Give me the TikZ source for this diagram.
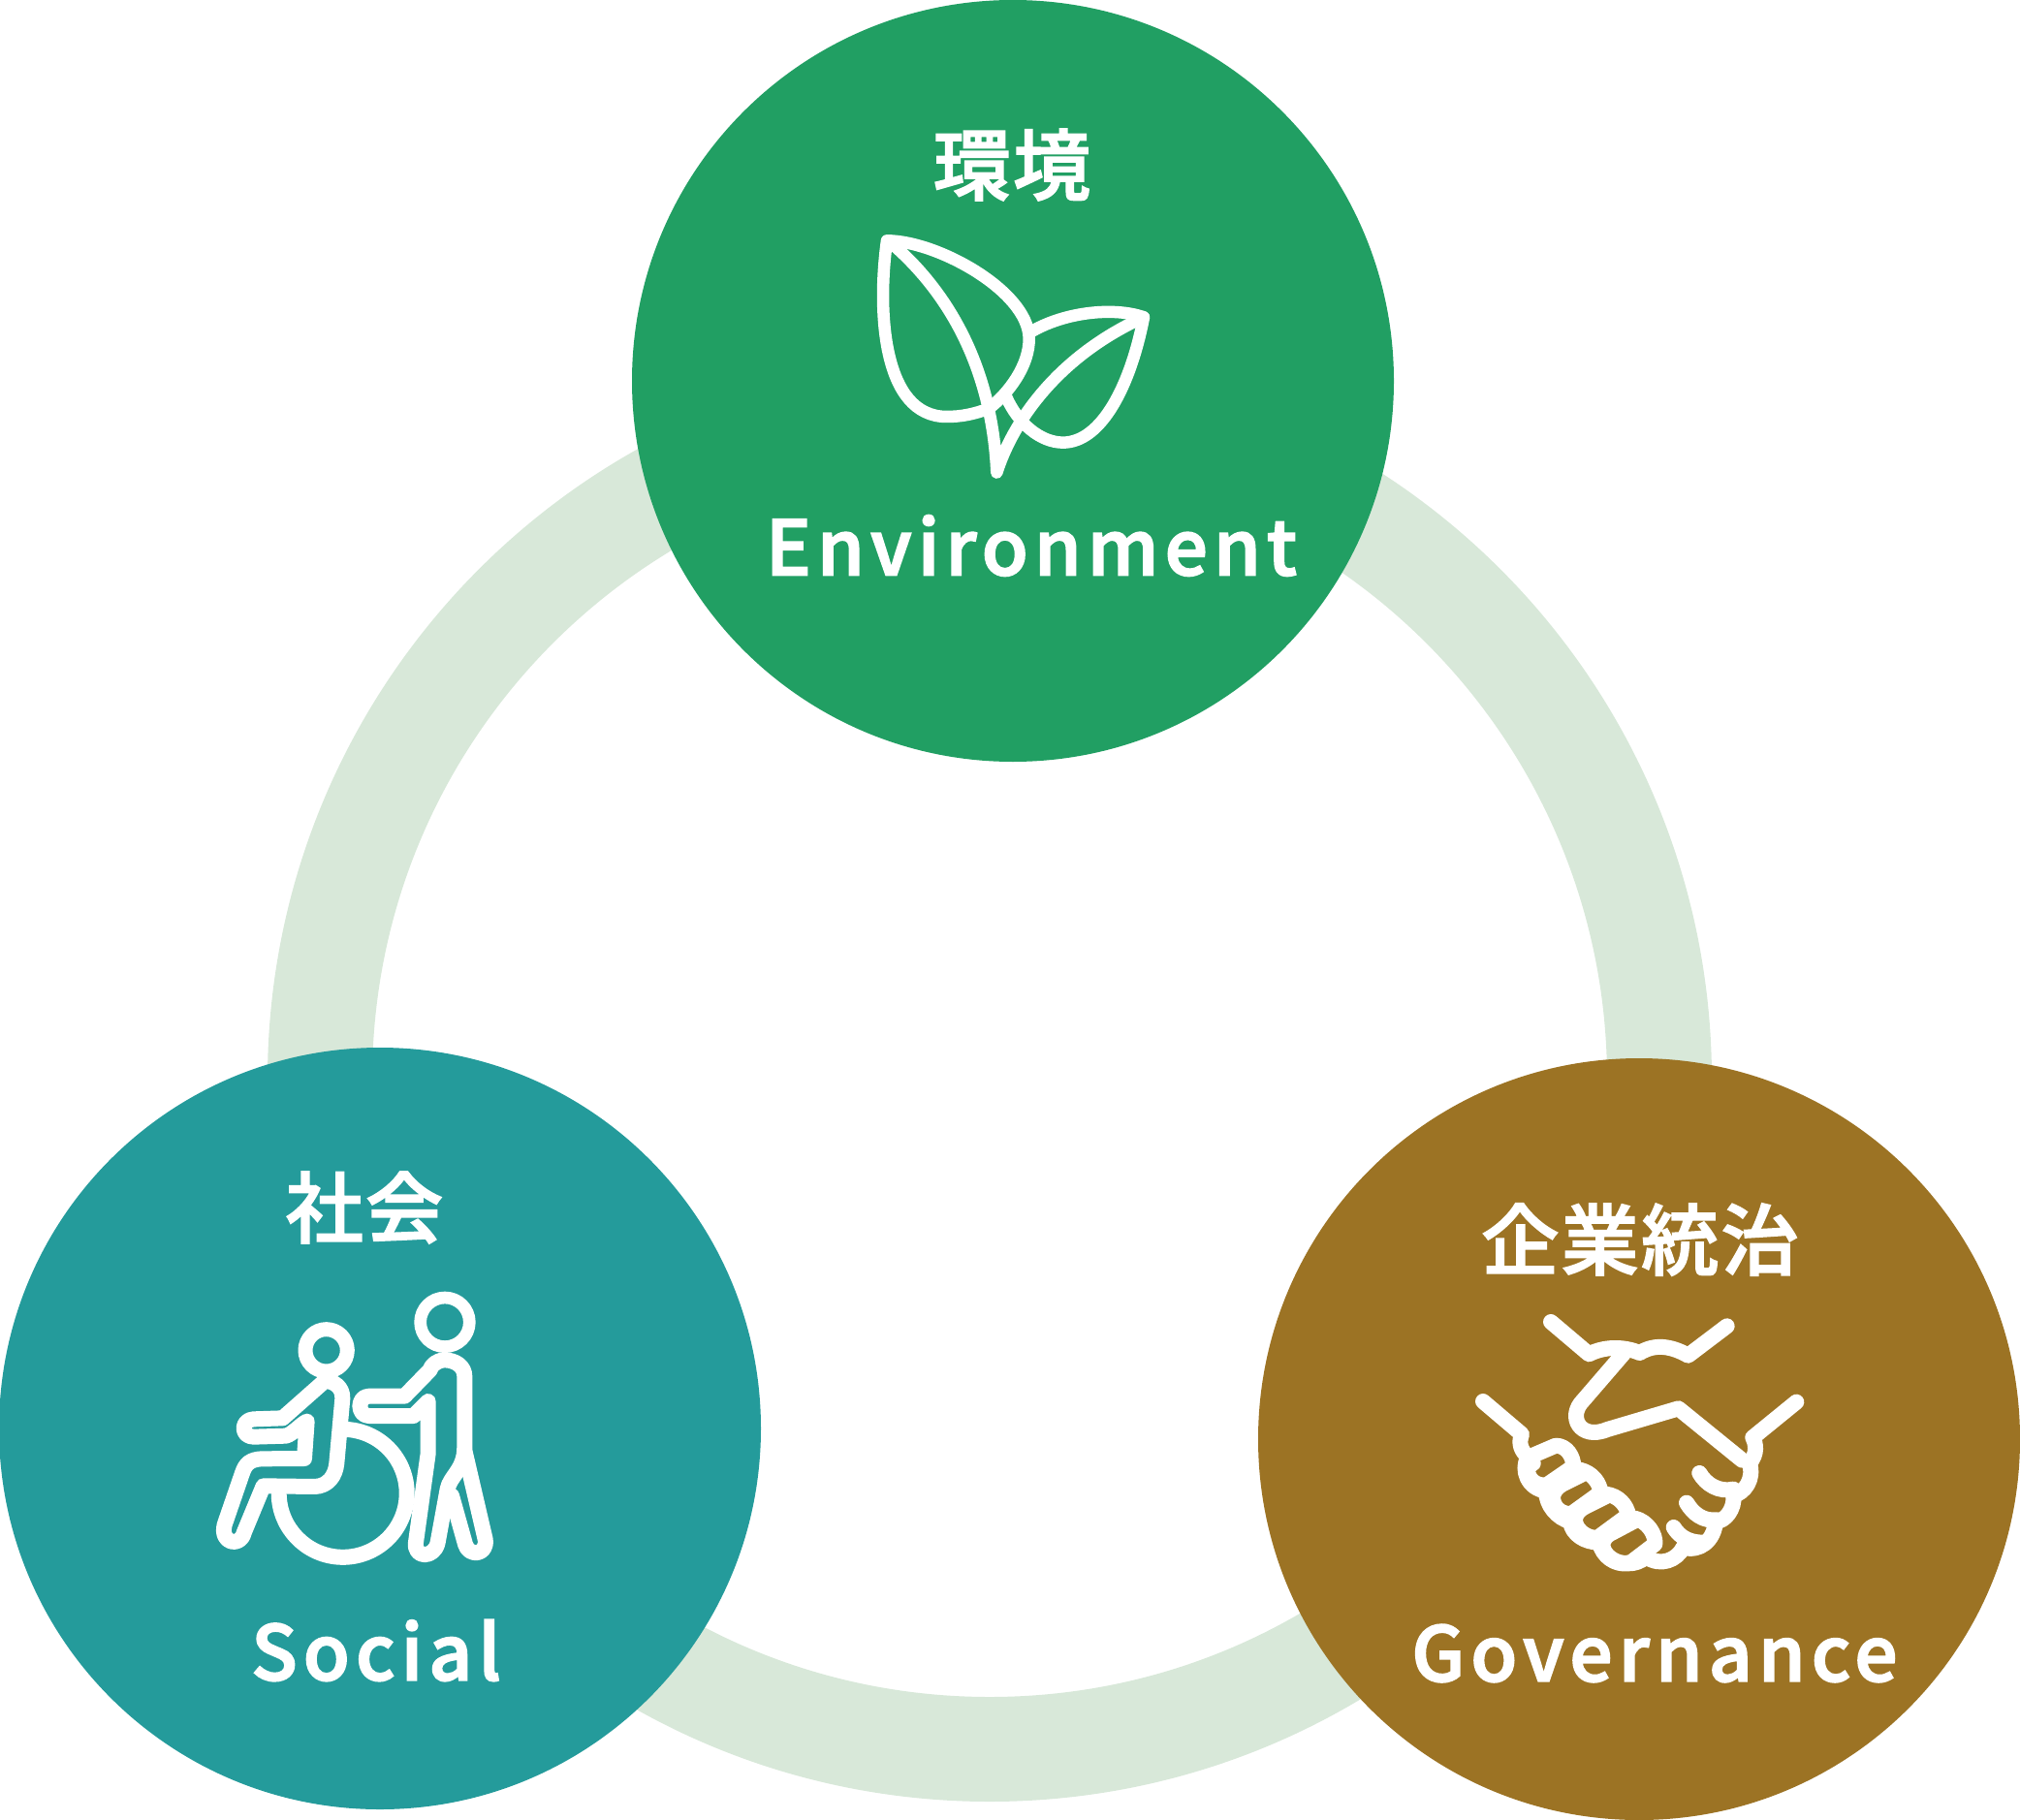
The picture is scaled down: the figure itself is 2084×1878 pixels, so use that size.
\documentclass[tikz,border=0pt]{standalone}
\usepackage{fontspec}
\newfontfamily\jpfont[LetterSpace=3,FakeBold=2]{Noto Sans CJK JP Medium}
\newfontfamily\latinfont[LetterSpace=8,FakeBold=2.5]{Noto Sans CJK JP Medium}
\usetikzlibrary{shapes,positioning}
\definecolor{envgreen}{RGB}{33,159,99}
\definecolor{socialteal}{RGB}{36,155,155}
\definecolor{govbrown}{RGB}{156,115,36}
\definecolor{ringgreen}{RGB}{216,232,217}

\begin{document}
\begin{tikzpicture}[
    x=1pt, y=-1pt,
    bubble/.style={circle, minimum size=786pt, inner sep=0pt},
    jptitle/.style={text=white, font=\jpfont\fontsize{80}{80}\selectfont},
    engname/.style={text=white, font=\latinfont\fontsize{78}{78}\selectfont},
    thinicon/.style={draw=white, line width=12.5pt, line cap=round, line join=round},
    icon/.style={draw=white, line width=16pt, line cap=round, line join=round},
    zoomed/.style={x=0.3333pt, y=-0.3333pt}
]
\useasboundingbox (0,0) rectangle (2084,1878);

% Ring behind the circles
\node[draw=ringgreen, circle, line width=108pt, minimum size=1382pt, inner sep=0pt] (ring) at (1021,1114) {};

% Three circles
\node[bubble, fill=envgreen] (env) at (1045,393) {};
\node[bubble, fill=socialteal] (social) at (392,1474) {};
\node[bubble, fill=govbrown] (gov) at (1691,1485) {};

% Labels
\node[jptitle] (envtitle) at (1044,170) {環境};
\node[engname] (envname) at (1064,563) {Environment};
\node[jptitle] (socialtitle) at (376,1246) {社会};
\node[engname] (socialname) at (388,1703) {Social};
\node[jptitle] (govtitle) at (1692,1279) {企業統治};
\node[engname] (govname) at (1707,1706) {Governance};

% Leaf icon
\begin{scope}[shift={(880,220)}, zoomed]
\draw[thinicon] (105,85) .. controls (260,85) and (540,240) .. (545,385)
    .. controls (548,470) and (480,560) .. (420,605)
    .. controls (375,622) and (335,630) .. (290,630)
    .. controls (90,630) and (75,300) .. (105,85) -- cycle;
\draw[thinicon] (118,92) .. controls (290,240) and (430,470) .. (445,803)
    .. controls (490,660) and (620,450) .. (900,322);
\draw[thinicon] (555,365) .. controls (660,305) and (810,290) .. (900,322)
    .. controls (860,530) and (770,710) .. (650,710)
    .. controls (580,710) and (510,650) .. (475,570);
\end{scope}

% Wheelchair icon
\begin{scope}[shift={(210,1310)}, zoomed]
\draw[icon, line width=15pt] (380,250) circle (65);
\draw[icon, line width=12.7pt] (747,163) circle (76);
\draw[icon] (375,345) -- (245,460) -- (155,463)
    .. controls (115,465) and (115,518) .. (155,518)
    -- (255,515) .. controls (275,510) and (300,480) .. (320,470)
    -- (312,585) -- (180,586) .. controls (145,588) and (130,600) .. (120,630)
    -- (65,790) .. controls (50,850) and (115,860) .. (125,815)
    -- (185,670) -- (345,672) .. controls (385,670) and (408,640) .. (412,600)
    -- (430,400) .. controls (432,365) and (405,345) .. (375,345) -- cycle;
\draw[icon] (445,495) arc[start angle=-86, end angle=178, radius=198];
\draw[icon] (745,280) .. controls (725,280) and (705,295) .. (700,312)
    -- (622,392) -- (512,392) .. controls (475,392) and (475,453) .. (512,453)
    -- (650,453) -- (695,408) -- (695,570) -- (657,845)
    .. controls (650,895) and (715,895) .. (725,845)
    -- (755,680) .. controls (762,640) and (808,620) .. (808,550)
    -- (808,330) .. controls (808,300) and (780,280) .. (745,280) -- cycle;
\draw[icon] (808,560) -- (872,835) .. controls (880,885) and (820,890) .. (810,850)
    -- (768,700);
\end{scope}

% Handshake icon
\begin{scope}[shift={(1510,1340)}, zoomed]
\draw[icon] (270,72) -- (388,172) .. controls (430,150) and (490,145) .. (545,168)
    .. controls (590,140) and (640,145) .. (695,176) -- (815,85);
\draw[icon] (495,170) -- (370,315) .. controls (320,365) and (360,440) .. (445,405)
    -- (665,340) -- (862,500);
\draw[icon] (60,318) -- (180,420) .. controls (170,445) and (175,470) .. (200,490)
    .. controls (175,530) and (200,590) .. (255,595)
    .. controls (255,640) and (290,680) .. (330,690)
    .. controls (335,730) and (375,755) .. (420,755)
    .. controls (430,800) and (470,825) .. (510,820)
    .. controls (530,820) and (545,815) .. (565,800)
    .. controls (610,830) and (660,810) .. (680,770)
    .. controls (730,785) and (775,750) .. (780,690)
    .. controls (810,690) and (840,650) .. (835,610)
    .. controls (870,600) and (900,560) .. (885,510)
    .. controls (910,480) and (905,450) .. (895,430) -- (1030,320);
\draw[icon] (215,485) -- (285,455) .. controls (320,455) and (340,490) .. (340,520)
    -- (260,575) .. controls (215,590) and (175,530) .. (215,510);
\draw[icon] (360,530) .. controls (400,540) and (420,570) .. (425,600)
    -- (335,665) .. controls (290,675) and (245,610) .. (305,575) -- (365,545);
\draw[icon] (440,605) .. controls (480,610) and (505,640) .. (510,670)
    -- (415,740) .. controls (365,745) and (310,680) .. (375,645) -- (445,610);
\draw[icon] (530,680) .. controls (570,690) and (595,730) .. (592,760)
    -- (520,815) .. controls (470,835) and (395,770) .. (450,730) -- (535,685);
\draw[icon] (730,540) .. controls (750,575) and (790,600) .. (835,590);
\draw[icon] (690,632) .. controls (710,665) and (740,690) .. (785,685);
\draw[icon] (650,708) .. controls (670,740) and (700,755) .. (740,755);
\end{scope}

\end{tikzpicture}
\end{document}
